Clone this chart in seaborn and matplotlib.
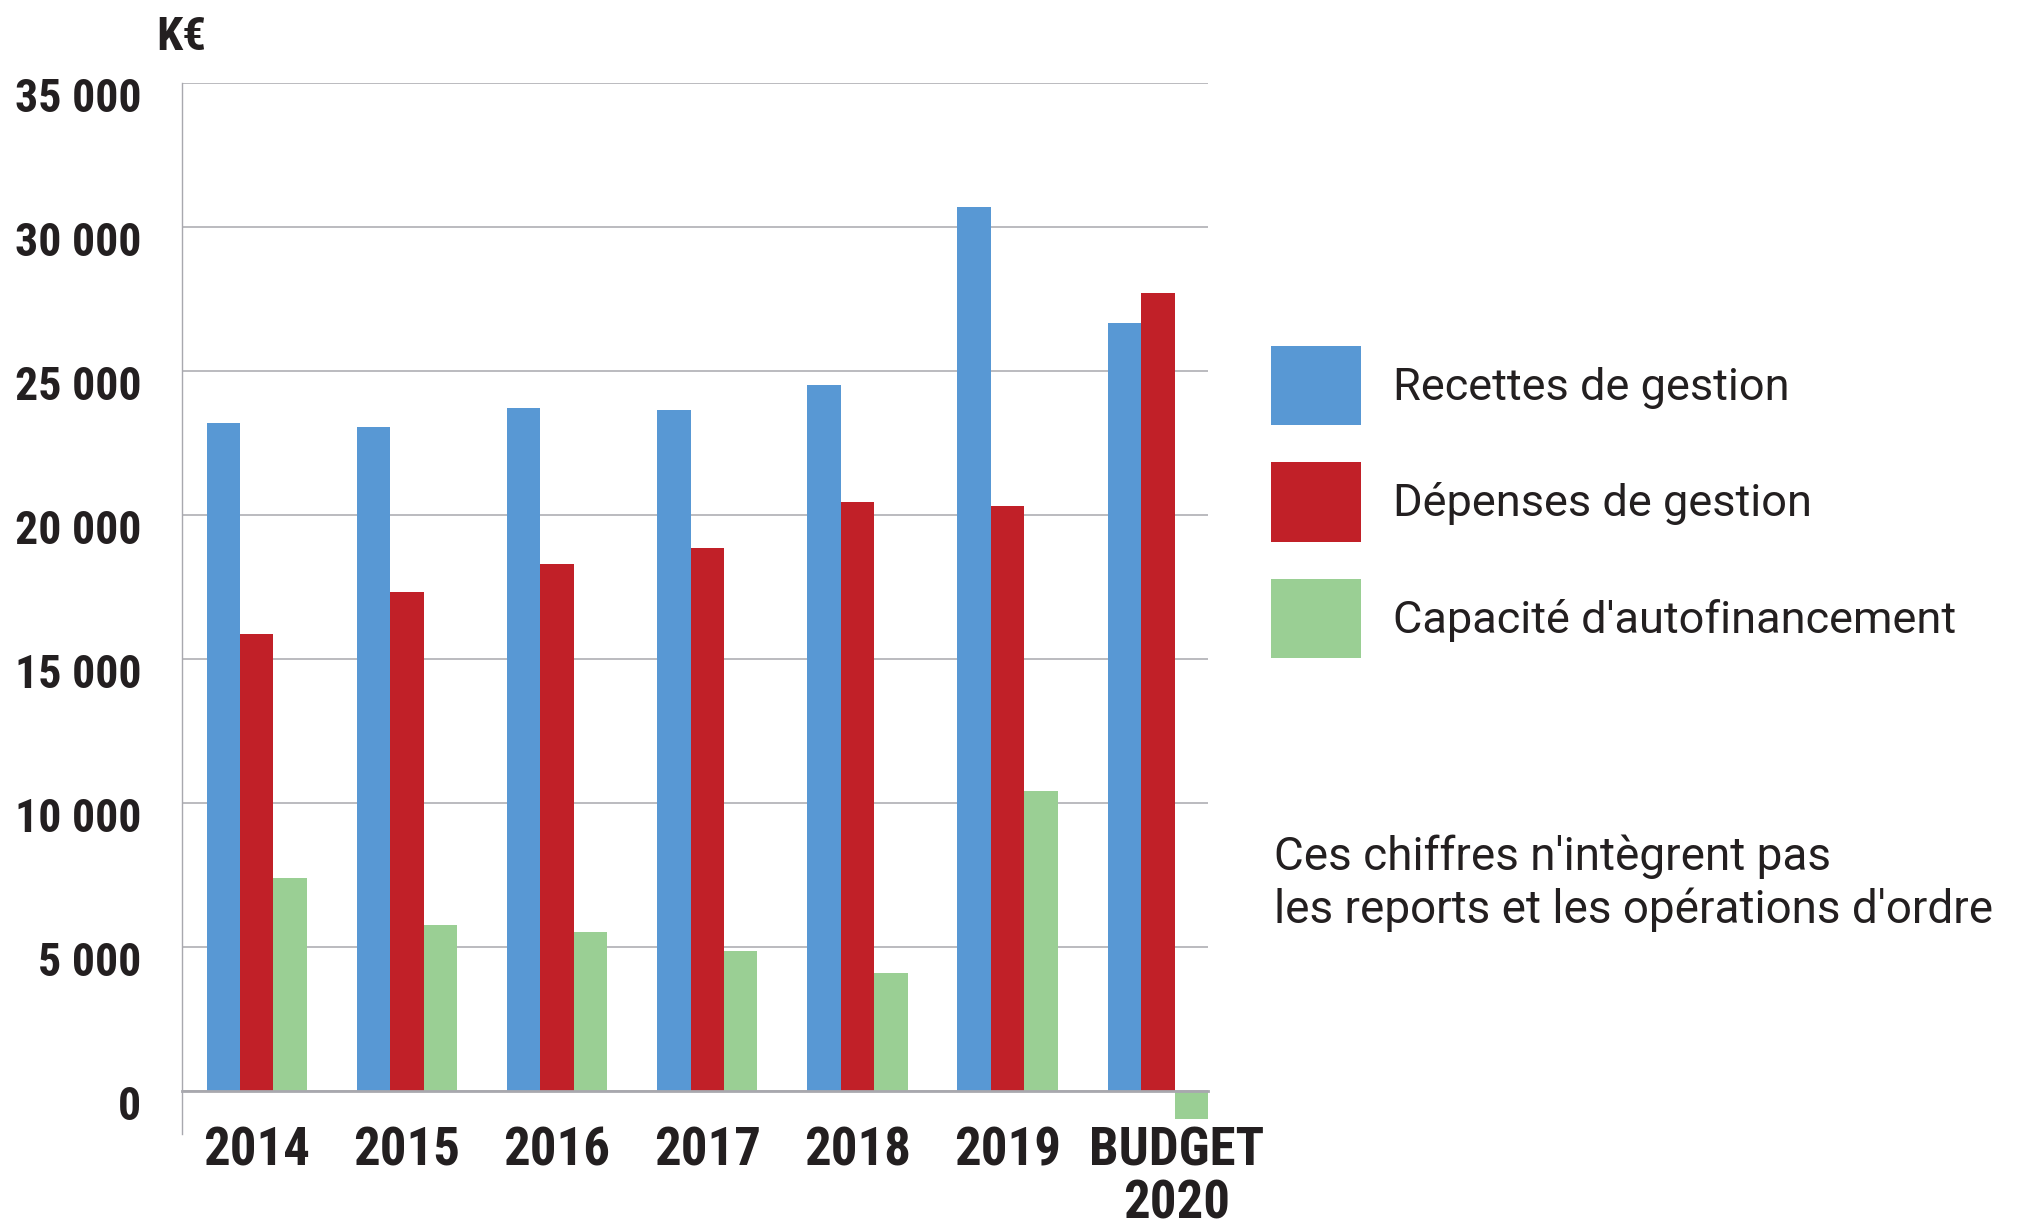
import matplotlib
matplotlib.use("Agg")
import matplotlib.pyplot as plt
import matplotlib.font_manager as fm
from matplotlib.patches import Patch
from matplotlib.ticker import FuncFormatter, FixedLocator
from matplotlib.transforms import ScaledTranslation
import pandas as pd
import seaborn as sns

# data (K€)
years = ["2014", "2015", "2016", "2017", "2018", "2019", "BUDGET\n2020"]
recettes = [23200, 23050, 23700, 23650, 24500, 30700, 26650]
depenses = [15850, 17300, 18300, 18850, 20450, 20300, 27700]
caf = [7400, 5750, 5500, 4850, 4100, 10400, -1000]
series = ["Recettes de gestion", "Dépenses de gestion", "Capacité d'autofinancement"]
colors = ["#5898D4", "#C12028", "#9ACF94"]
note = "Ces chiffres n'intègrent pas\nles reports et les opérations d'ordre"

sns.set_style("white")

installed = {f.name for f in fm.fontManager.ttflist}


def pick(cands):
    for c in cands:
        if c in installed:
            return c
    return "DejaVu Sans"


cond_font = pick(["Roboto Condensed", "Liberation Sans Narrow", "Open Sans Condensed",
                  "DejaVu Sans Condensed", "Roboto"])
text_font = pick(["Roboto", "Noto Sans", "DejaVu Sans"])
plt.rcParams["font.family"] = [text_font, "DejaVu Sans"]

df = pd.DataFrame({
    "year": years * 3,
    "serie": [series[0]] * 7 + [series[1]] * 7 + [series[2]] * 7,
    "value": recettes + depenses + caf,
})

fig = plt.figure(figsize=(20.18, 12.29), dpi=100)
ax = fig.add_axes([0.090, 0.0774, 0.5086, 0.8553])

sns.barplot(data=df, x="year", y="value", hue="serie", palette=colors,
            width=0.668, gap=0, saturation=1, legend=False, ax=ax,
            edgecolor="none", linewidth=0)

grid_c = "#A8A8AE"
ink = "#231F20"
ax.set_xlim(-0.5, 6.334)
ax.set_ylim(-1500, 35000)
ax.set_yticks(range(0, 35001, 5000))
ax.yaxis.set_major_formatter(FuncFormatter(lambda v, p: f"{int(v):,}".replace(",", " ")))
ax.set_axisbelow(True)
ax.yaxis.grid(True, color=grid_c, linewidth=1.1)
ax.xaxis.grid(False)
ax.set_xlabel("")
ax.set_ylabel("")

for s in ["top", "right"]:
    ax.spines[s].set_visible(False)
ax.spines["left"].set_color(grid_c)
ax.spines["left"].set_linewidth(1.0)
ax.spines["bottom"].set_position(("data", 0))
ax.spines["bottom"].set_color(grid_c)
ax.spines["bottom"].set_linewidth(2.0)

ax.xaxis.set_minor_locator(FixedLocator([0.5, 1.5, 2.5, 3.5, 4.5, 5.5]))
ax.tick_params(axis="x", which="major", length=0, pad=25, labelsize=38,
               labelcolor=ink)
ax.tick_params(axis="x", which="minor", length=11, width=1.0, color=grid_c,
               direction="out")
ax.tick_params(axis="y", which="major", length=5, width=1.0, color=grid_c,
               direction="out", pad=24, labelsize=33, labelcolor=ink)

for lbl in ax.get_xticklabels():
    lbl.set_fontfamily(cond_font)
    lbl.set_fontweight("bold")
    lbl.set_linespacing(1.05)
last = ax.get_xticklabels()[-1]
last.set_transform(last.get_transform() + ScaledTranslation(0.19, 0, fig.dpi_scale_trans))

for lbl in ax.get_yticklabels():
    lbl.set_fontfamily(cond_font)
    lbl.set_fontweight("bold")
    lbl.set_transform(lbl.get_transform() + ScaledTranslation(0, -0.12, fig.dpi_scale_trans))

fig.text(181 / 2018, 1 - 15 / 1229, "K€", ha="center", va="top", fontsize=34,
         fontweight="bold", family=cond_font, color=ink)

handles = [Patch(facecolor=c, edgecolor="none") for c in colors]
fig.legend(handles, series, loc="upper left",
           bbox_to_anchor=(1271 / 2018, 1 - 346 / 1229),
           bbox_transform=fig.transFigure, frameon=False, fontsize=32.5,
           handlelength=2.0, handleheight=2.33, labelspacing=0.82,
           handletextpad=0.7, borderpad=0, borderaxespad=0,
           labelcolor=ink)

fig.text(1274 / 2018, 1 - 883 / 1229, note, ha="left", va="center", fontsize=33,
         color=ink, linespacing=1.25)

fig.savefig("out.png", dpi=100, facecolor="white")
